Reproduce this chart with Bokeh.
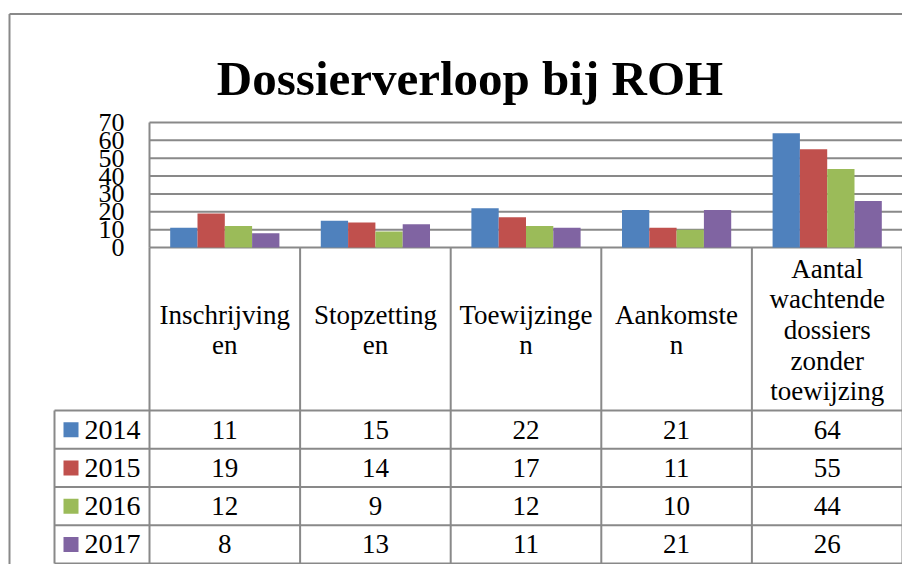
import numpy as np
from bokeh.plotting import figure
from bokeh.models import ColumnDataSource, Range1d
from bokeh.transform import dodge
from bokeh.core.properties import value
from bokeh.embed import file_html
from bokeh.resources import INLINE

# ---------------- data ----------------
title = "Dossierverloop bij ROH"
categories = ["Inschrijvingen", "Stopzettingen", "Toewijzingen", "Aankomsten",
              "Aantal wachtende dossiers zonder toewijzing"]
header_labels = ["Inschrijving\nen", "Stopzetting\nen", "Toewijzinge\nn", "Aankomste\nn",
                 "Aantal\nwachtende\ndossiers\nzonder\ntoewijzing"]
years = ["2014", "2015", "2016", "2017"]
v2014 = [11, 15, 22, 21, 64]
v2015 = [19, 14, 17, 11, 55]
v2016 = [12, 9, 12, 10, 44]
v2017 = [8, 13, 11, 21, 26]
series = [v2014, v2015, v2016, v2017]
colors = ["#4F81BD", "#C0504D", "#9BBB59", "#8064A2"]
y_ticks = [0, 10, 20, 30, 40, 50, 60, 70]
y_max = 70

# ---------------- layout (figure pixels) ----------------
W, H = 902, 564
PLOT_L, PLOT_R = 149, 902
PLOT_T, PLOT_B = 122, 247
HEAD_B = 410
TABLE_B = 563
LEG_L = 54
ROW_H = (TABLE_B - HEAD_B) / len(years)
GRID = "#898989"
FONT = value("Liberation Serif")

n = len(categories)
cat_w = (PLOT_R - PLOT_L) / n
px_per_val = (PLOT_B - PLOT_T) / y_max

p = figure(width=W, height=H,
           x_range=Range1d(-PLOT_L / cat_w, (W - PLOT_L) / cat_w),
           y_range=Range1d(-(H - PLOT_B) / px_per_val, y_max + PLOT_T / px_per_val),
           x_axis_location=None, y_axis_location=None,
           output_backend="svg", toolbar_location=None, min_border=0,
           outline_line_color=None, background_fill_color="white",
           border_fill_color="white")
p.grid.visible = False
p.extra_x_ranges = {"px": Range1d(0, W)}
p.extra_y_ranges = {"px": Range1d(H, 0)}

leg_l = (LEG_L - PLOT_L) / cat_w  # legend column left edge, category units

# outer chart border (left + top)
p.segment(x0=[9, 9], y0=[13.5, 13.5], x1=[W, 9], y1=[13.5, H], line_color=GRID,
          line_width=2, x_range_name="px", y_range_name="px")

# title
p.text(x=[469.5], y=[78], text=[title], text_font=FONT,
       text_font_size=value("49px"), text_font_style="bold", text_align="center",
       text_baseline="alphabetic", text_color="black",
       x_range_name="px", y_range_name="px")

# value gridlines + axis line
p.segment(x0=[0] * len(y_ticks), x1=[n] * len(y_ticks), y0=y_ticks, y1=y_ticks,
          line_color=GRID, line_width=2)
p.segment(x0=[0], x1=[0], y0=[0], y1=[y_max], line_color=GRID, line_width=2)

# y tick labels
p.text(x=[124] * len(y_ticks), y=y_ticks, text=[str(t) for t in y_ticks],
       text_font=FONT, text_font_size=value("26px"), text_align="right",
       text_baseline="middle", text_color="black", x_range_name="px")

# bars
bar_w = 0.1813
src = ColumnDataSource(dict(xc=np.arange(n) + 0.5,
                            **{f"y{y}": s for y, s in zip(years, series)}))
for k, (yr, col) in enumerate(zip(years, colors)):
    off = (k - (len(years) - 1) / 2) * bar_w
    p.vbar(x=dodge("xc", off, range=p.x_range), top=f"y{yr}", bottom=0,
           width=bar_w, source=src, fill_color=col, line_color=None)

# data table lines
p.segment(x0=list(range(n + 1)), x1=list(range(n + 1)),
          y0=[PLOT_B] * (n + 1), y1=[TABLE_B] * (n + 1),
          line_color=GRID, line_width=2, y_range_name="px")
row_ys = [HEAD_B + i * ROW_H for i in range(len(years) + 1)]
p.segment(x0=[leg_l] * len(row_ys), x1=[n] * len(row_ys), y0=row_ys, y1=row_ys,
          line_color=GRID, line_width=2, y_range_name="px")
p.segment(x0=[leg_l], x1=[leg_l], y0=[HEAD_B], y1=[TABLE_B],
          line_color=GRID, line_width=2, y_range_name="px")

# header (category) labels
p.text(x=np.arange(n) + 0.5, y=[(PLOT_B + HEAD_B) / 2 + 1] * n, text=header_labels,
       text_font=FONT, text_font_size=value("27px"), text_align="center",
       text_baseline="middle", text_line_height=1.02, text_color="black",
       y_range_name="px")

# table values
row_c = [HEAD_B + (i + 0.5) * ROW_H for i in range(len(years))]
for i, s in enumerate(series):
    p.text(x=np.arange(n) + 0.5, y=[row_c[i]] * n, text=[str(v) for v in s],
           text_font=FONT, text_font_size=value("27px"), text_align="center",
           text_baseline="middle", text_color="black", y_range_name="px")

# legend keys in table
p.rect(x=[70.5] * len(years), y=row_c, width=15, height=15, fill_color=colors,
       line_color=None, x_range_name="px", y_range_name="px")
p.text(x=[84] * len(years), y=row_c, text=years, text_font=FONT,
       text_font_size=value("28px"), text_align="left", text_baseline="middle",
       text_color="black", x_range_name="px", y_range_name="px")

open("out.html", "w").write(file_html(p, INLINE))
